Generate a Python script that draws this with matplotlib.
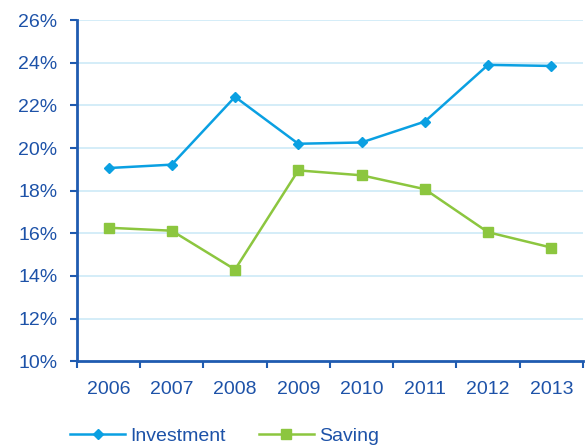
import numpy as np
import matplotlib.pyplot as plt
from matplotlib.ticker import FixedLocator

plt.rcParams['font.family'] = 'Liberation Sans'

years = ['2006', '2007', '2008', '2009', '2010', '2011', '2012', '2013']
investment = [19.06, 19.22, 22.4, 20.2, 20.26, 21.24, 23.9, 23.85]
saving = [16.26, 16.12, 14.3, 18.95, 18.72, 18.07, 16.05, 15.33]

text_col = '#1d52a8'
axis_col = '#1f5bb0'
inv_col = '#0aa0e2'
sav_col = '#8cc63f'

fig = plt.figure(figsize=(5.87, 4.47), dpi=100)
ax = fig.add_axes([0.131, 0.192, 0.862, 0.763])

x = np.arange(len(years))
ax.plot(x, investment, color=inv_col, lw=1.8, marker='D', ms=5.5, label='Investment')
ax.plot(x, saving, color=sav_col, lw=1.8, marker='s', ms=6.5, label='Saving')

ax.set_xlim(-0.5, len(years) - 0.5)
ax.set_ylim(10, 26)
ax.set_yticks(np.arange(10, 27, 2))
ax.set_yticklabels(['{}%'.format(v) for v in range(10, 27, 2)])
ax.set_xticks(x)
ax.set_xticklabels(years)
ax.xaxis.set_minor_locator(FixedLocator(np.arange(-0.5, len(years), 1)))
ax.tick_params(axis='x', which='major', length=0, pad=14, labelsize=14, labelcolor=text_col)
ax.tick_params(axis='x', which='minor', length=5, width=1.5, color=axis_col, direction='out')
ax.tick_params(axis='y', length=5, width=1.5, color=axis_col, labelsize=14, labelcolor=text_col, pad=9)

for v in range(12, 27, 2):
    ax.axhline(v, color='#cdeaf7', lw=1.2, zorder=0)

for s in ['top', 'right']:
    ax.spines[s].set_visible(False)
for s in ['left', 'bottom']:
    ax.spines[s].set_color(axis_col)
    ax.spines[s].set_linewidth(2)

leg = fig.legend(loc='lower left', bbox_to_anchor=(0.09, -0.035), ncol=2, frameon=False,
                 fontsize=14, handlelength=2.8, columnspacing=1.7, handletextpad=0.3)
for t in leg.get_texts():
    t.set_color(text_col)

plt.savefig('out.png', dpi=100)
